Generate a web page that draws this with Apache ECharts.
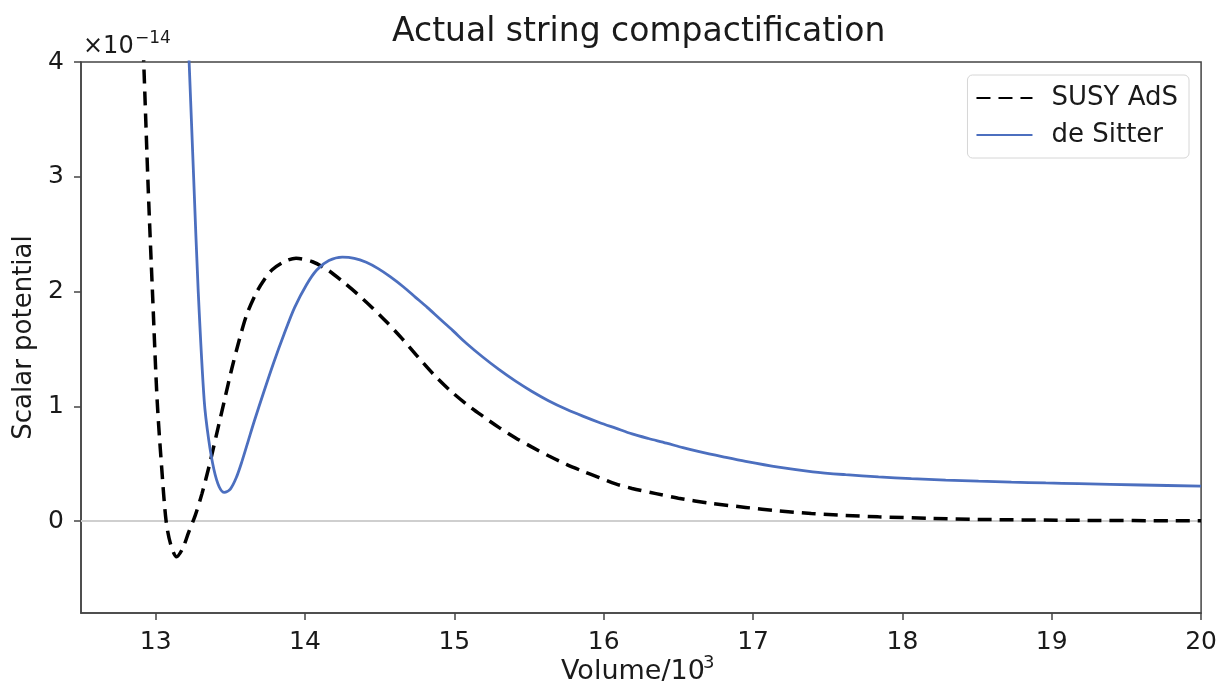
<!DOCTYPE html>
<html>
<head>
<meta charset="utf-8">
<script src="https://cdn.jsdelivr.net/npm/echarts@6/dist/echarts.min.js"></script>
<style>html,body{margin:0;padding:0;background:#fff}#c{width:1220px;height:687px}</style>
</head>
<body>
<div id="c"></div>
<script>
var titleText = 'Actual string compactification';
var yAxisName = 'Scalar potential';
var seriesNames = ['SUSY AdS', 'de Sitter'];
var xTicks = [13, 14, 15, 16, 17, 18, 19, 20];
var yTicks = [0, 1, 2, 3, 4];
var susyX = [12.90, 12.92, 12.95, 12.98, 13.01, 13.04, 13.07, 13.10, 13.14, 13.18, 13.22, 13.265, 13.31, 13.36, 13.41, 13.46, 13.51, 13.56, 13.61, 13.67, 13.72, 13.78, 13.86, 13.94, 14.05, 14.15, 14.25, 14.35, 14.45, 14.55, 14.65, 14.75, 14.86, 14.97, 15.08, 15.19, 15.30, 15.41, 15.52, 15.63, 15.75, 15.86, 15.97, 16.08, 16.19, 16.35, 16.50, 16.72, 16.95, 17.17, 17.39, 17.62, 17.84, 18.20, 18.51, 19.20, 20.00];
var susyY = [4.70, 4.00, 2.90, 1.95, 1.05, 0.47, 0.00, -0.20, -0.31, -0.24, -0.10, 0.05, 0.24, 0.49, 0.77, 1.05, 1.33, 1.58, 1.80, 1.98, 2.09, 2.19, 2.26, 2.29, 2.26, 2.19, 2.09, 1.98, 1.86, 1.73, 1.59, 1.44, 1.28, 1.14, 1.02, 0.915, 0.815, 0.725, 0.645, 0.57, 0.495, 0.435, 0.38, 0.325, 0.285, 0.24, 0.20, 0.155, 0.12, 0.09, 0.067, 0.05, 0.038, 0.024, 0.015, 0.007, 0.003];
var sitterX = [13.20, 13.224, 13.255, 13.285, 13.325, 13.355, 13.39, 13.425, 13.46, 13.50, 13.54, 13.58, 13.62, 13.66, 13.72, 13.79, 13.86, 13.93, 14.01, 14.08, 14.16, 14.25, 14.33, 14.41, 14.49, 14.57, 14.66, 14.74, 14.82, 14.90, 14.99, 15.08, 15.19, 15.30, 15.41, 15.52, 15.63, 15.75, 15.86, 15.97, 16.08, 16.19, 16.30, 16.42, 16.53, 16.64, 16.80, 16.95, 17.17, 17.40, 17.62, 17.84, 18.06, 18.29, 18.51, 18.73, 18.96, 19.18, 19.60, 20.00];
var sitterY = [4.77, 4.00, 2.97, 2.00, 1.05, 0.71, 0.45, 0.30, 0.25, 0.28, 0.38, 0.53, 0.70, 0.87, 1.11, 1.38, 1.63, 1.86, 2.06, 2.19, 2.27, 2.30, 2.29, 2.255, 2.20, 2.13, 2.04, 1.95, 1.86, 1.765, 1.66, 1.55, 1.43, 1.32, 1.22, 1.13, 1.05, 0.975, 0.915, 0.86, 0.81, 0.76, 0.72, 0.68, 0.64, 0.605, 0.56, 0.52, 0.47, 0.43, 0.405, 0.385, 0.37, 0.358, 0.348, 0.34, 0.333, 0.327, 0.315, 0.305];

function pairs(xs, ys) { return xs.map(function (x, i) { return [x, ys[i]]; }); }

var FONT = 'DejaVu Sans';
var INK = '#1a1a1a';
var chart = echarts.init(document.getElementById('c'));
chart.setOption({
  backgroundColor: '#ffffff',
  animation: false,
  textStyle: { fontFamily: FONT },
  title: {
    text: titleText, left: 387, top: 11,
    textStyle: { fontFamily: FONT, fontSize: 33, fontWeight: 'normal', color: INK }
  },
  grid: { left: 81, right: 17, top: 62, bottom: 74, show: true, borderColor: '#444', borderWidth: 1.5, backgroundColor: 'transparent' },
  legend: {
    orient: 'vertical', right: 31, top: 75,
    itemWidth: 56, itemHeight: 14, itemGap: 11,
    padding: [10, 11, 10, 8],
    borderColor: '#d6d6d6', borderWidth: 1, borderRadius: 5,
    itemStyle: { opacity: 0 },
    textStyle: { fontFamily: FONT, fontSize: 26, color: INK, padding: [0, 0, 0, 14] },
    data: seriesNames
  },
  xAxis: {
    type: 'value', min: 12.5, max: 20,
    axisLine: { show: true, onZero: false, lineStyle: { color: '#444', width: 1.5 } },
    axisTick: { show: true, inside: false, length: 7, lineStyle: { color: '#444', width: 1.5 }, customValues: xTicks },
    axisLabel: { fontFamily: FONT, fontSize: 25, color: INK, margin: 17, customValues: xTicks },
    splitLine: { show: false }
  },
  yAxis: {
    type: 'value', min: -0.8, max: 4,
    name: yAxisName, nameLocation: 'middle', nameGap: 43, nameRotate: 90,
    nameTextStyle: { fontFamily: FONT, fontSize: 26, color: INK },
    axisLine: { show: true, onZero: false, lineStyle: { color: '#444', width: 1.5 } },
    axisTick: { show: true, inside: false, length: 7, lineStyle: { color: '#444', width: 1.5 }, customValues: yTicks },
    axisLabel: { fontFamily: FONT, fontSize: 25, color: INK, margin: 17, customValues: yTicks },
    splitLine: { show: false }
  },
  graphic: [
    { type: 'text', left: 83, top: 35, style: { text: '×10', fontFamily: FONT, fontSize: 24, fill: INK } },
    { type: 'text', left: 135, top: 30, style: { text: '−14', fontFamily: FONT, fontSize: 17, fill: INK } },
    { type: 'text', left: 561, top: 658, style: { text: 'Volume/10', fontFamily: FONT, fontSize: 27, fill: INK } },
    { type: 'text', left: 703, top: 654, style: { text: '3', fontFamily: FONT, fontSize: 18, fill: INK } }
  ],
  series: [
    {
      name: seriesNames[0], type: 'line', symbol: 'none', smooth: 0.3, clip: true,
      data: pairs(susyX, susyY),
      lineStyle: { color: '#000', width: 3.5, type: [14, 8] },
      itemStyle: { color: '#000' },
      z: 3,
      markLine: {
        silent: true, symbol: 'none', label: { show: false }, animation: false,
        lineStyle: { color: '#cfcfcf', width: 2, type: 'solid' },
        data: [{ yAxis: 0 }], z: 1
      }
    },
    {
      name: seriesNames[1], type: 'line', symbol: 'none', smooth: 0.3, clip: true,
      data: pairs(sitterX, sitterY),
      lineStyle: { color: '#4C6FBF', width: 2.8 },
      itemStyle: { color: '#4C6FBF' },
      z: 4
    }
  ]
});
</script>
</body>
</html>
